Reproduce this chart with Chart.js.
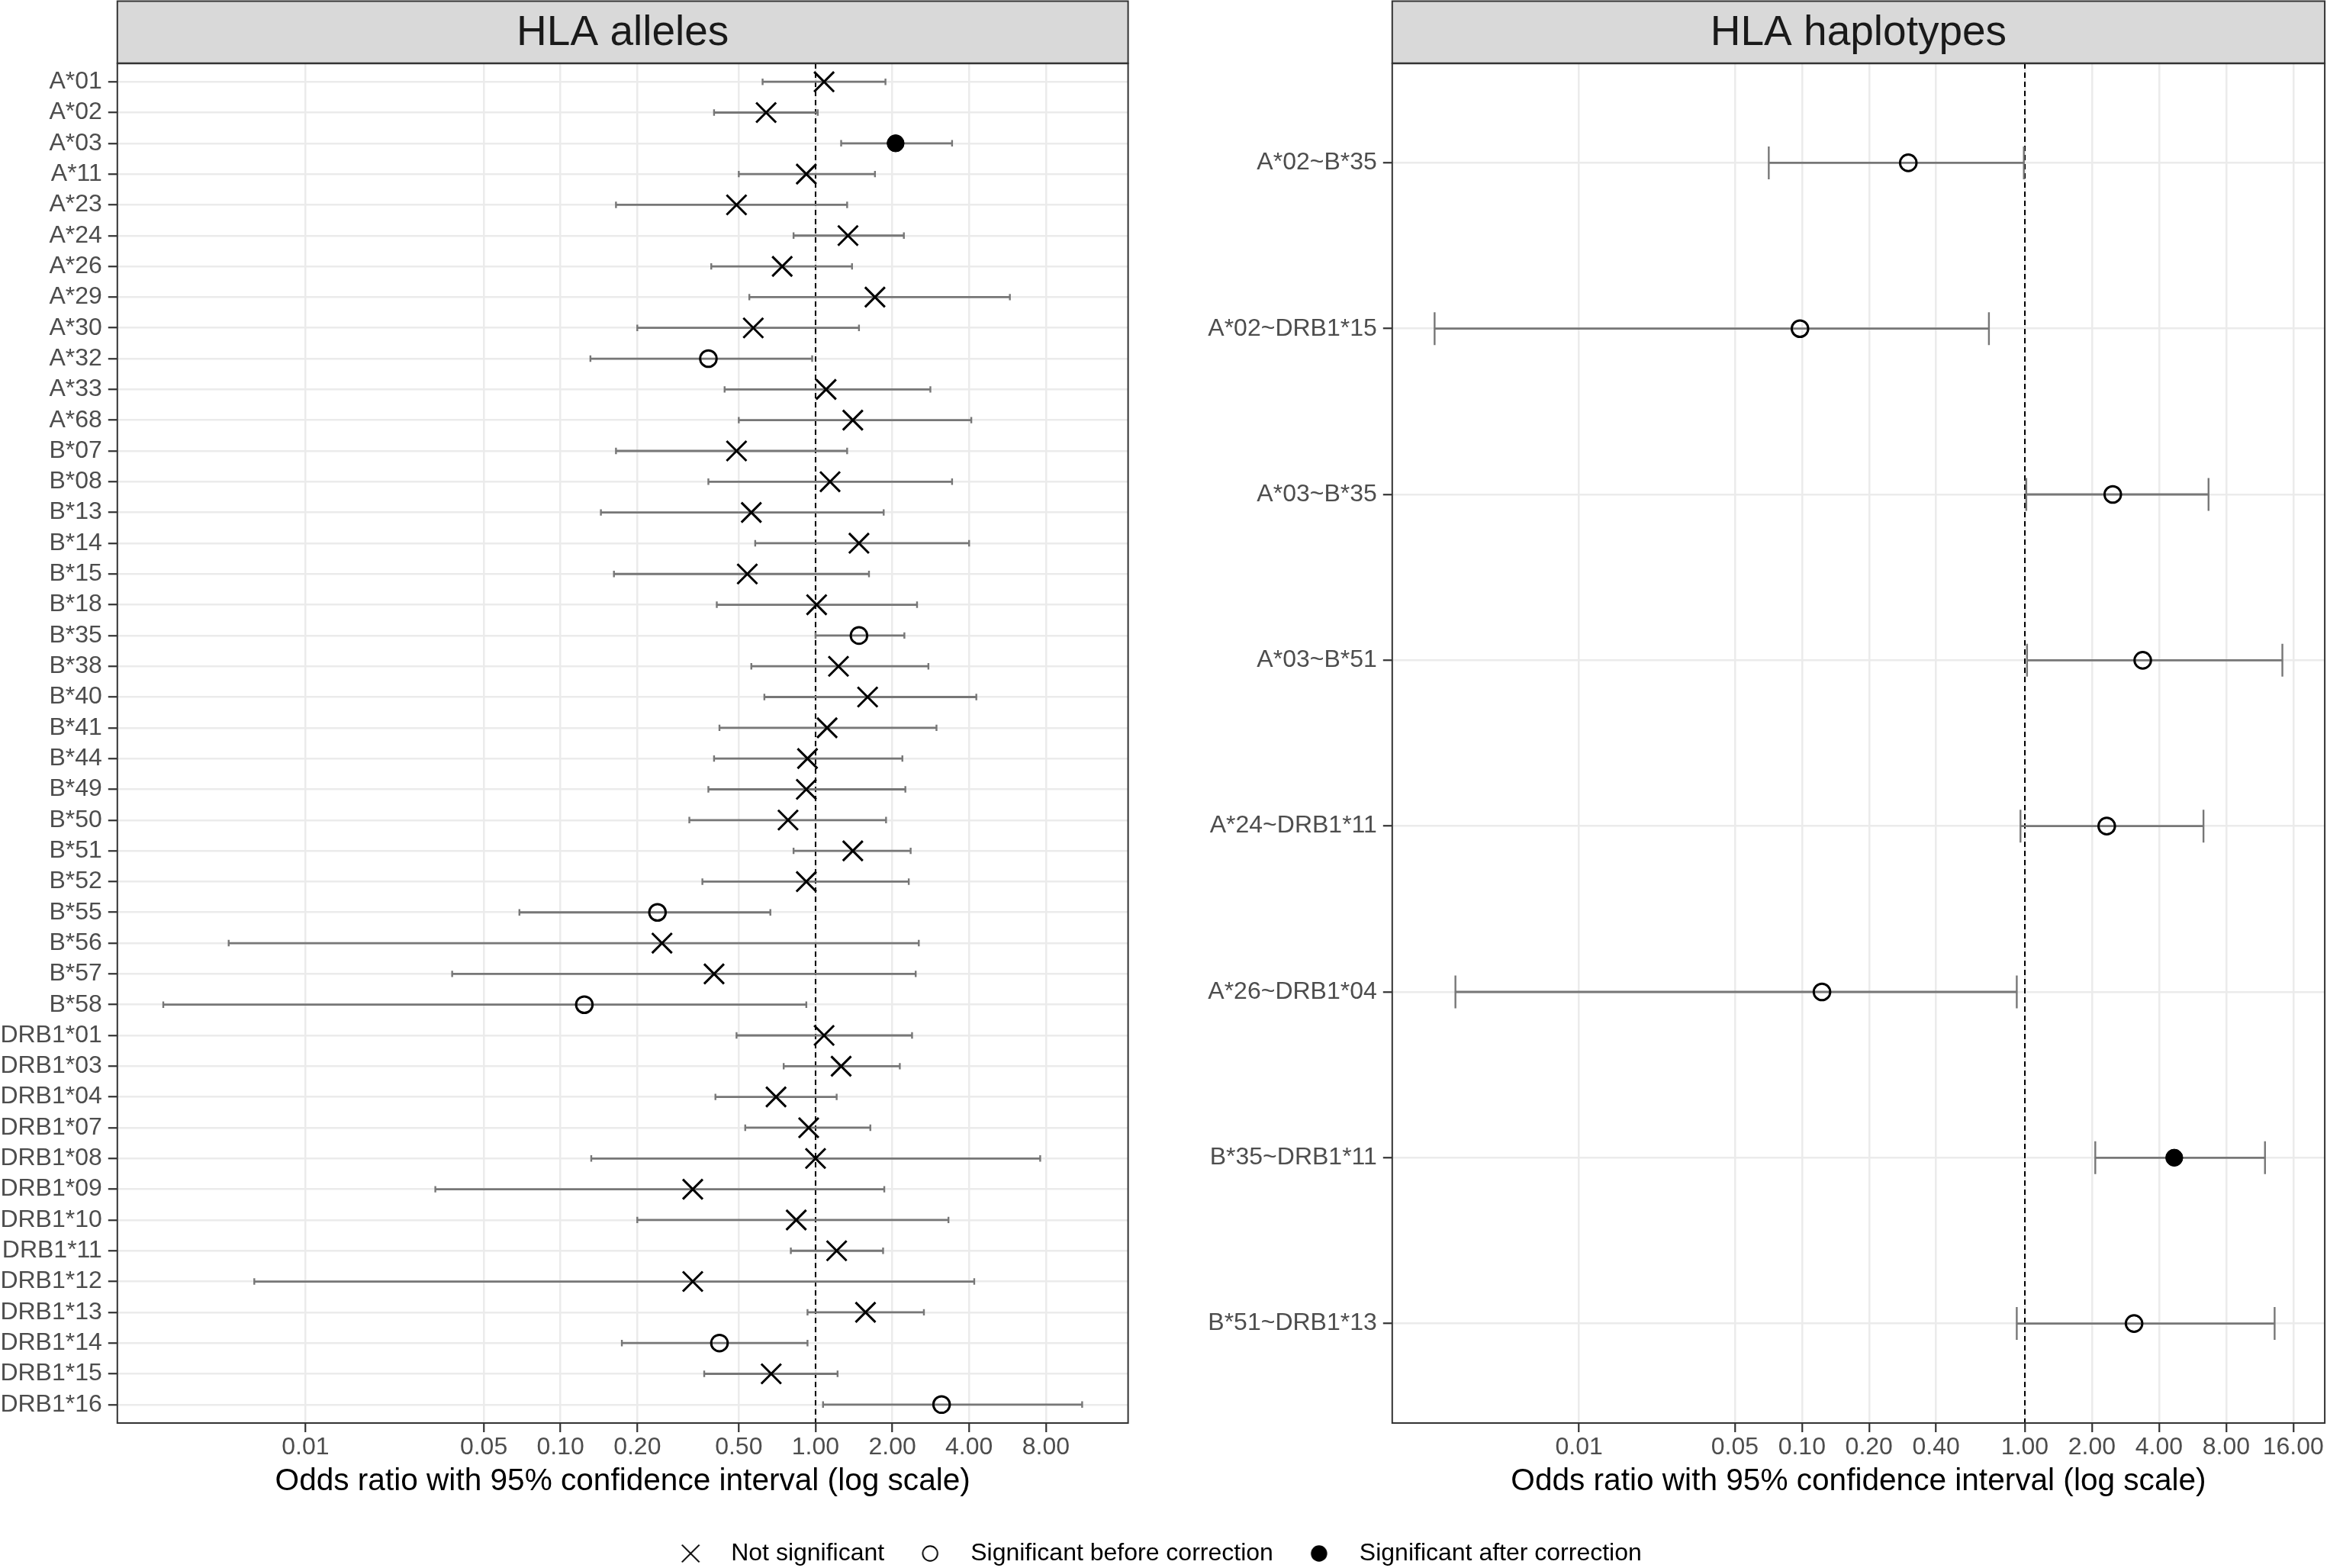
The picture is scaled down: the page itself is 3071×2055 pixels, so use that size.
<!DOCTYPE html>
<html>
<head>
<meta charset="utf-8">
<script src="https://cdn.jsdelivr.net/npm/chart.js@4.4.1/dist/chart.umd.min.js"></script>
<style>
html,body{margin:0;padding:0;background:#ffffff;overflow:hidden;width:3071px;height:2055px;}
canvas{position:absolute;display:block;}
</style>
</head>
<body>
<canvas id="cL" width="1500" height="1968" style="left:0px;top:0px;width:1500px;height:1968px"></canvas>
<canvas id="cR" width="1535" height="1968" style="left:1536px;top:0px;width:1535px;height:1968px"></canvas>
<canvas id="cLeg" width="3020" height="140" style="left:0px;top:1997px;width:3020px;height:140px"></canvas>
<script>
// ---------------- DATA ----------------
const alleleLabels = ['A*01','A*02','A*03','A*11','A*23','A*24','A*26','A*29','A*30','A*32','A*33','A*68',
  'B*07','B*08','B*13','B*14','B*15','B*18','B*35','B*38','B*40','B*41','B*44','B*49','B*50','B*51','B*52','B*55','B*56','B*57','B*58',
  'DRB1*01','DRB1*03','DRB1*04','DRB1*07','DRB1*08','DRB1*09','DRB1*10','DRB1*11','DRB1*12','DRB1*13','DRB1*14','DRB1*15','DRB1*16'];
const alleleOR = [1.08,0.64,2.06,0.92,0.49,1.34,0.74,1.71,0.57,0.38,1.10,1.40,
  0.49,1.14,0.56,1.48,0.54,1.01,1.48,1.23,1.60,1.11,0.93,0.92,0.78,1.40,0.92,0.24,0.25,0.40,0.124,
  1.08,1.26,0.70,0.94,1.00,0.33,0.84,1.21,0.33,1.57,0.42,0.67,3.12];
const alleleLower = [0.62,0.40,1.26,0.50,0.165,0.82,0.39,0.55,0.20,0.131,0.44,0.50,
  0.165,0.38,0.144,0.58,0.162,0.41,1.00,0.56,0.63,0.42,0.40,0.38,0.32,0.82,0.36,0.069,0.0050,0.0376,0.00277,
  0.49,0.75,0.405,0.53,0.132,0.0323,0.20,0.80,0.0063,0.93,0.174,0.366,1.07];
const alleleUpper = [1.88,1.02,3.43,1.71,1.33,2.22,1.39,5.78,1.48,0.97,2.82,4.08,
  1.33,3.43,1.85,4.00,1.62,2.50,2.23,2.77,4.27,2.98,2.19,2.25,1.89,2.36,2.32,0.665,2.54,2.47,0.92,
  2.39,2.14,1.21,1.64,7.6,1.86,3.32,1.84,4.19,2.66,0.93,1.22,11.1];
// 0 = not significant, 1 = significant before correction, 2 = significant after correction
const alleleSig = [0,0,2,0,0,0,0,0,0,1,0,0,
  0,0,0,0,0,0,1,0,0,0,0,0,0,0,0,1,0,0,1,
  0,0,0,0,0,0,0,0,0,0,1,0,1];

const haploLabels = ['A*02~B*35','A*02~DRB1*15','A*03~B*35','A*03~B*51','A*24~DRB1*11','A*26~DRB1*04','B*35~DRB1*11','B*51~DRB1*13'];
const haploOR = [0.30,0.098,2.48,3.38,2.33,0.123,4.68,3.09];
const haploLower = [0.071,0.00225,1.015,1.023,0.956,0.00279,2.07,0.92];
const haploUpper = [0.99,0.69,6.67,14.3,6.33,0.92,11.95,13.2];
const haploSig = [1,1,1,1,1,1,2,1];

const alleleTickValues = [0.01,0.05,0.1,0.2,0.5,1,2,4,8];
const alleleTickLabels = ['0.01','0.05','0.10','0.20','0.50','1.00','2.00','4.00','8.00'];
const haploTickValues = [0.01,0.05,0.1,0.2,0.4,1,2,4,8,16];
const haploTickLabels = ['0.01','0.05','0.10','0.20','0.40','1.00','2.00','4.00','8.00','16.00'];

const sigNames = ['Not significant','Significant before correction','Significant after correction'];
const panelTitles = ['HLA alleles','HLA haplotypes'];
const xAxisTitle = 'Odds ratio with 95% confidence interval (log scale)';
const referenceOR = 1;

// ---------------- STYLE ----------------
const FONT = "'Liberation Sans', Arial, Helvetica, sans-serif";
Chart.defaults.font.family = FONT;
const GRID = '#EBEBEB';
const DARK = '#333333';
const TXT = '#4D4D4D';
const BAR = '#777777';

const panelDecor = {
  id: 'panelDecor',
  beforeDraw(chart) {
    const {ctx, chartArea: a} = chart;
    ctx.save();
    ctx.fillStyle = '#D9D9D9';
    ctx.fillRect(a.left, 1, a.right - a.left, a.top - 1);
    ctx.strokeStyle = DARK;
    ctx.lineWidth = 2;
    ctx.strokeRect(a.left, 1.5, a.right - a.left, a.top - 1.5);
    ctx.restore();
  },
  afterDraw(chart) {
    const {ctx, chartArea: a} = chart;
    ctx.save();
    ctx.strokeStyle = DARK;
    ctx.lineWidth = 2;
    ctx.strokeRect(a.left, a.top, a.right - a.left, a.bottom - a.top);
    ctx.beginPath();
    ctx.lineWidth = 2.5;
    ctx.moveTo(a.left, a.top); ctx.lineTo(a.right, a.top);
    ctx.stroke();
    ctx.restore();
  }
};

function makePanel(canvasId, title, labels, or, lo, hi, sig, tickVals, tickLabels, yAxisWidth, rightPad, capRadius) {
  const n = labels.length;
  const yMin = -0.6;
  const yMax = n - 1 + 0.6;
  const lmin = Math.log10(Math.min(...lo));
  const lmax = Math.log10(Math.max(...hi));
  const ex = 0.05 * (lmax - lmin);
  const xmin = Math.pow(10, lmin - ex);
  const xmax = Math.pow(10, lmax + ex);
  const idx = labels.map((_, i) => i);

  const pointSets = [
    {label: sigNames[0], order: 0, data: idx.filter(i => sig[i] === 0).map(i => ({x: or[i], y: i})),
      pointStyle: 'crossRot', pointRadius: 18.4, pointBorderWidth: 3, pointBorderColor: '#000', pointBackgroundColor: 'rgba(0,0,0,0)'},
    {label: sigNames[1], order: 1, data: idx.filter(i => sig[i] === 1).map(i => ({x: or[i], y: i})),
      pointStyle: 'circle', pointRadius: 10.8, pointBorderWidth: 3, pointBorderColor: '#000', pointBackgroundColor: 'rgba(0,0,0,0)'},
    {label: sigNames[2], order: 2, data: idx.filter(i => sig[i] === 2).map(i => ({x: or[i], y: i})),
      pointStyle: 'circle', pointRadius: 11.2, pointBorderWidth: 1, pointBorderColor: '#000', pointBackgroundColor: '#000'}
  ];
  const caps = {label: 'caps', order: 3,
    data: idx.flatMap(i => [{x: lo[i], y: i}, {x: hi[i], y: i}]),
    pointStyle: 'line', pointRotation: 90, pointRadius: capRadius, pointBorderWidth: 2.4, pointBorderColor: BAR, showLine: false};
  const bars = {label: 'ci', order: 4, showLine: true, spanGaps: false,
    data: idx.flatMap(i => [{x: lo[i], y: i}, {x: hi[i], y: i}, {x: null, y: null}]),
    borderColor: BAR, borderWidth: 2.8, pointRadius: 0, fill: false};
  const vline = {label: 'ref', order: 5, showLine: true,
    data: [{x: referenceOR, y: yMin}, {x: referenceOR, y: yMax}],
    borderColor: '#000', borderWidth: 2, borderDash: [7, 5], pointRadius: 0, fill: false};

  return new Chart(document.getElementById(canvasId), {
    type: 'scatter',
    data: {datasets: [...pointSets, caps, bars, vline]},
    options: {
      responsive: false,
      animation: false,
      events: [],
      layout: {padding: {left: 0, right: rightPad, top: 0, bottom: 0}},
      plugins: {
        legend: {display: false},
        tooltip: {enabled: false},
        title: {display: true, text: title, fullSize: false, color: '#1A1A1A',
          font: {size: 55, weight: 'normal', lineHeight: 1.2}, padding: {top: 11, bottom: 6}}
      },
      scales: {
        x: {
          type: 'logarithmic', min: xmin, max: xmax, bounds: 'data',
          afterBuildTicks: s => { s.ticks = tickVals.map(v => ({value: v})); },
          afterFit: s => { s.height = 103; },
          ticks: {autoSkip: false, maxRotation: 0, minRotation: 0, padding: 1, color: TXT,
            font: {size: 32}, callback: (v, i) => tickLabels[i]},
          grid: {color: GRID, lineWidth: 2.5, drawTicks: true, tickLength: 12, tickColor: DARK, tickWidth: 2.2},
          border: {display: false},
          title: {display: true, text: xAxisTitle, color: '#000', font: {size: 40.6, lineHeight: 1.1}, padding: {top: 0, bottom: 4}}
        },
        y: {
          type: 'linear', reverse: true, min: yMin, max: yMax, bounds: 'data',
          afterBuildTicks: s => { s.ticks = idx.map(i => ({value: i})); },
          afterFit: s => { s.width = yAxisWidth; },
          ticks: {autoSkip: false, padding: 8, color: TXT, font: {size: 32}, callback: v => labels[v]},
          grid: {color: GRID, lineWidth: 2.5, drawTicks: true, tickLength: 12, tickColor: DARK, tickWidth: 2.2},
          border: {display: false}
        }
      }
    },
    plugins: [panelDecor]
  });
}

makePanel('cL', panelTitles[0], alleleLabels, alleleOR, alleleLower, alleleUpper, alleleSig,
  alleleTickValues, alleleTickLabels, 153.8, 11, 4.2);
makePanel('cR', panelTitles[1], haploLabels, haploOR, haploLower, haploUpper, haploSig,
  haploTickValues, haploTickLabels, 288.8, 3, 21.5);

// ---------------- LEGEND ----------------
function glyph(kind) {
  const c = document.createElement('canvas');
  c.width = 26; c.height = 26;
  const g = c.getContext('2d');
  g.strokeStyle = '#000'; g.fillStyle = '#000';
  if (kind === 0) {
    g.lineWidth = 2;
    g.beginPath();
    g.moveTo(1.6, 1.6); g.lineTo(24.4, 24.4);
    g.moveTo(24.4, 1.6); g.lineTo(1.6, 24.4);
    g.stroke();
  } else if (kind === 1) {
    g.lineWidth = 1.9;
    g.beginPath(); g.arc(13, 13, 9.7, 0, Math.PI * 2); g.stroke();
  } else {
    g.beginPath(); g.arc(13, 13, 10.7, 0, Math.PI * 2); g.fill();
  }
  return c;
}

new Chart(document.getElementById('cLeg'), {
  type: 'scatter',
  data: {datasets: sigNames.map((name, k) => ({label: name, data: [], pointStyle: glyph(k)}))},
  options: {
    responsive: false,
    animation: false,
    events: [],
    layout: {padding: 0},
    scales: {x: {display: false}, y: {display: false}},
    plugins: {
      tooltip: {enabled: false},
      legend: {display: true, position: 'top', align: 'center',
        labels: {usePointStyle: true, pointStyleWidth: 74, padding: 23, color: '#000', font: {size: 32}}}
    }
  }
});
</script>
</body>
</html>
